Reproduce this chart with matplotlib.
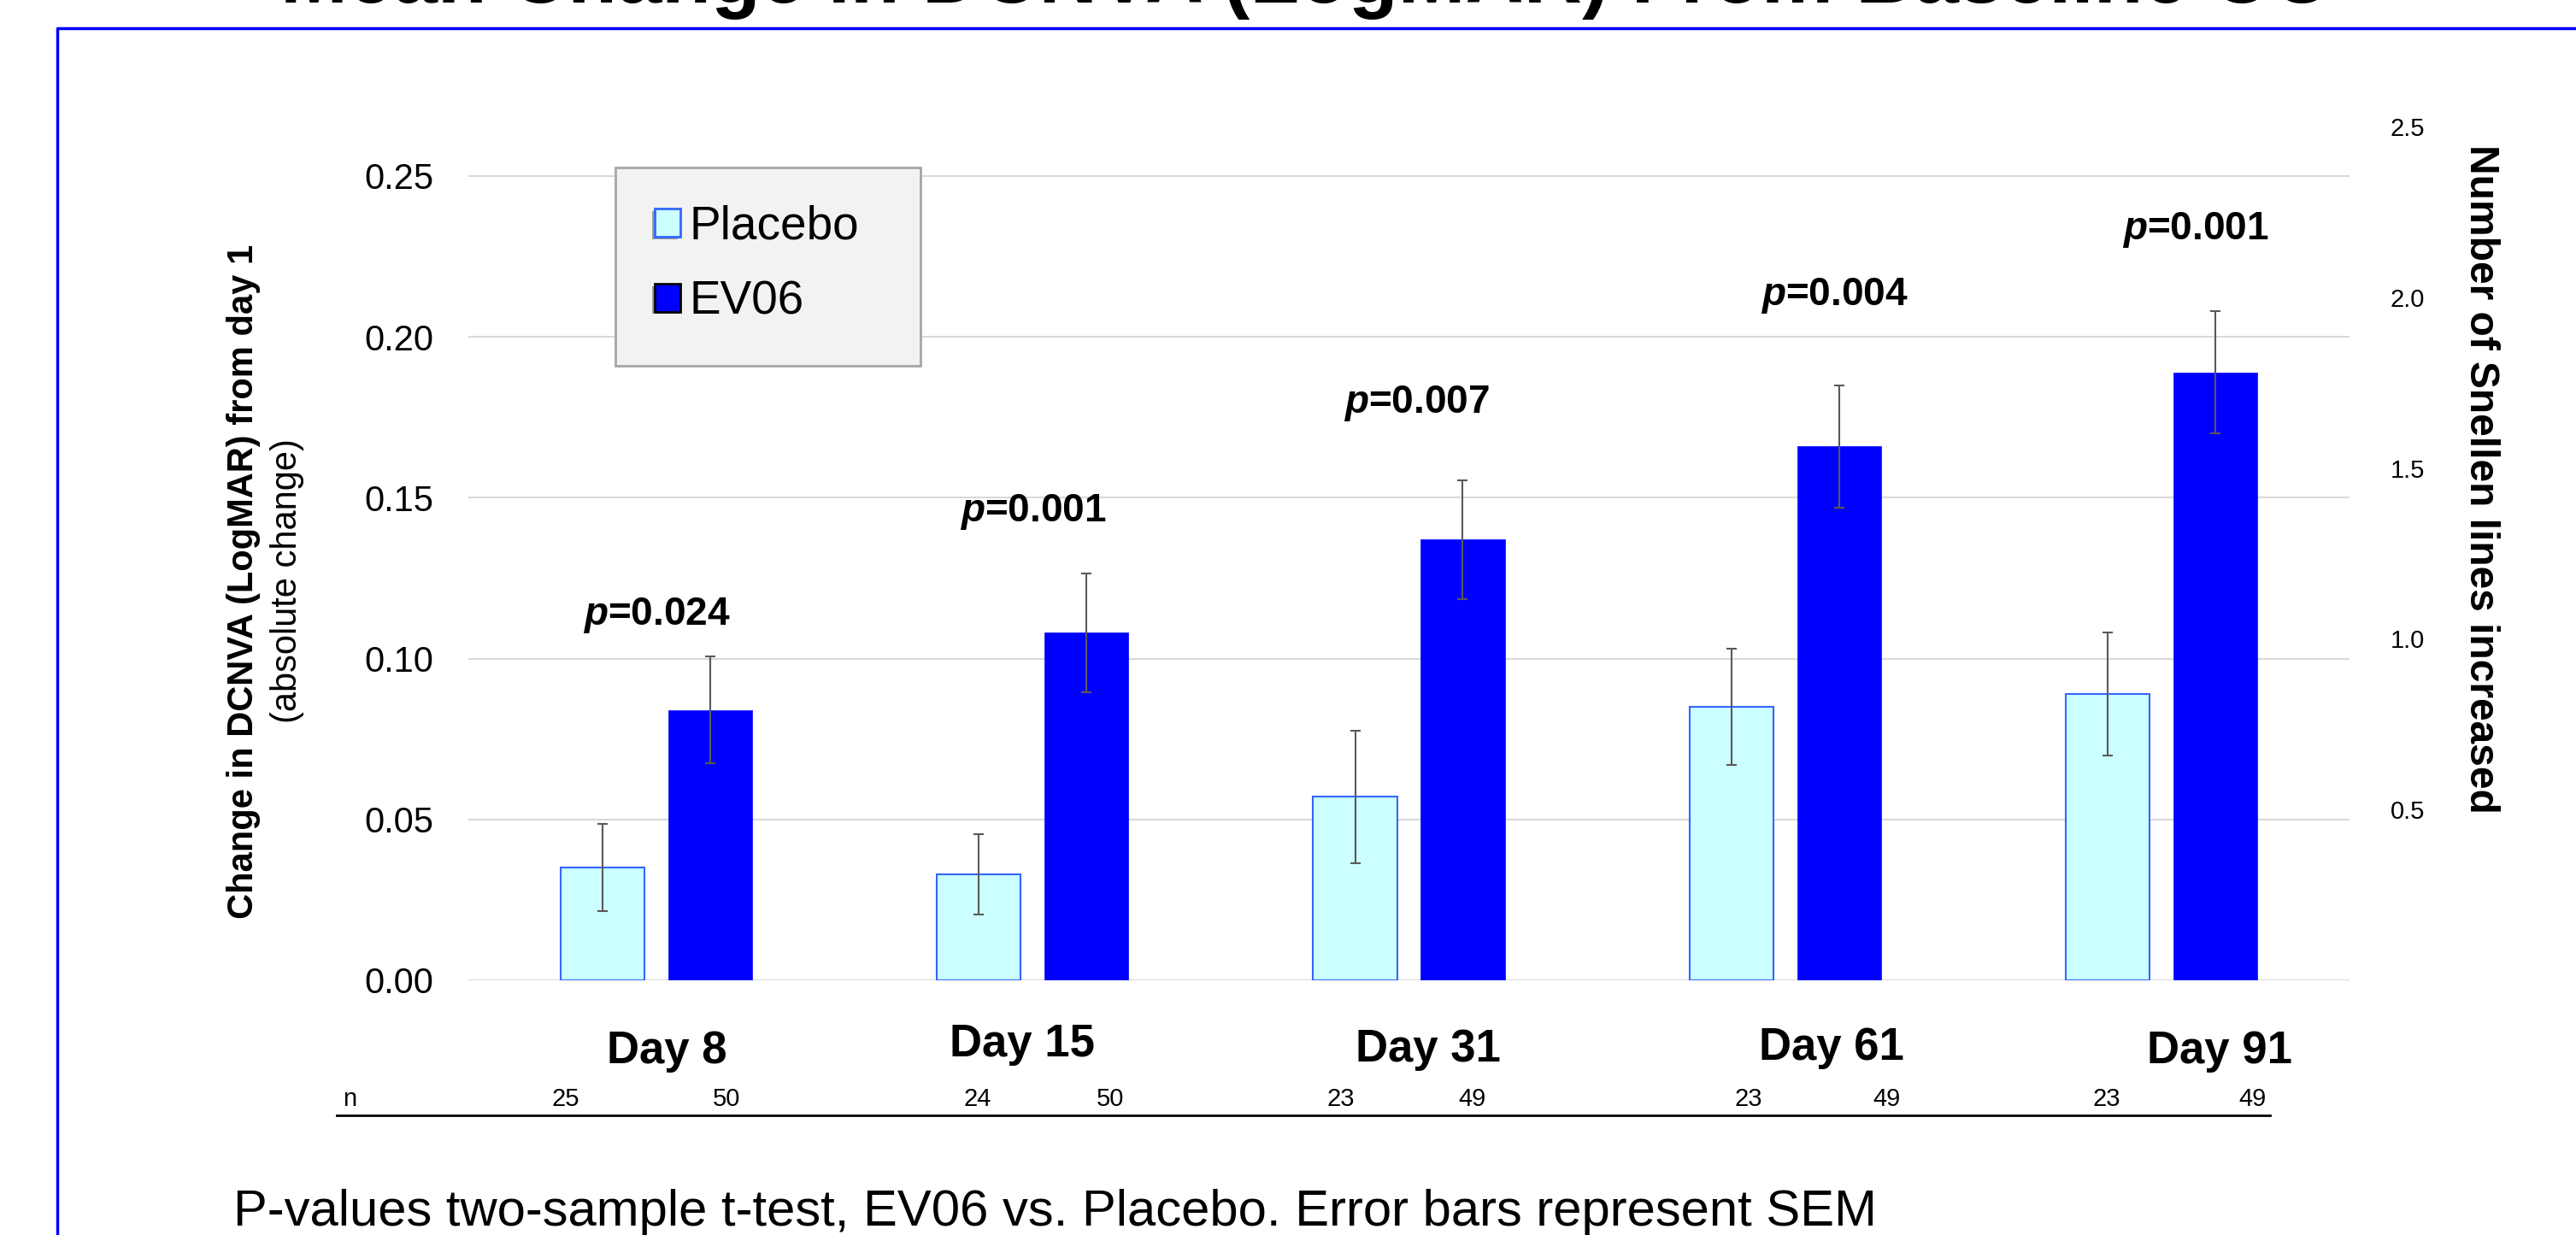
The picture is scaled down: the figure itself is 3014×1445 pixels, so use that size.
import numpy as np
import matplotlib
matplotlib.use("Agg")
import matplotlib.pyplot as plt
import matplotlib.patheffects as pe
from matplotlib.patches import Rectangle, Patch
from matplotlib.lines import Line2D
from matplotlib.transforms import blended_transform_factory

# data
days = ["Day 8", "Day 15", "Day 31", "Day 61", "Day 91"]
placebo_mean = [0.035, 0.033, 0.057, 0.085, 0.089]
placebo_sem = [0.0135, 0.0125, 0.0207, 0.018, 0.019]
ev06_mean = [0.084, 0.108, 0.137, 0.166, 0.189]
ev06_sem = [0.0166, 0.0184, 0.0184, 0.019, 0.019]
p_values = ["0.024", "0.001", "0.007", "0.004", "0.001"]
n_placebo = [25, 24, 23, 23, 23]
n_ev06 = [50, 50, 49, 49, 49]
snellen_ticks = [0.5, 1.0, 1.5, 2.0, 2.5]

# label placement (data x, data y / figure px)
p_label_x = [0.0, 1.0, 2.02, 3.13, 4.09]
p_label_y = [0.1105, 0.1426, 0.1763, 0.2100, 0.2304]
day_label_x = [0.028, 0.972, 2.05, 3.124, 4.155]
day_label_py = [1230, 1222, 1228, 1226, 1230]
n_label_x = [-0.242, 0.186, 0.854, 1.207, 1.819, 2.168, 2.902, 3.269, 3.854, 4.242]

W, H = 3014, 1445
plt.rcParams["font.family"] = ["Liberation Sans", "DejaVu Sans"]
plt.rcParams["mathtext.fontset"] = "custom"
plt.rcParams["mathtext.it"] = "Liberation Sans:italic:bold"


def fx(px):
    return px / W


def fy(py):
    return 1 - py / H


fig = plt.figure(figsize=(W / 100, H / 100), dpi=100)
ax = fig.add_axes([fx(548), fy(1147), fx(2749) - fx(548), fy(148) - fy(1147)])

x = np.arange(len(days))
offset, width = 0.143, 0.223
err_style = dict(ecolor="#595959", elinewidth=1.5, capsize=4.3, capthick=1.5)

ax.bar(x - offset, placebo_mean, width, color="#ccffff", edgecolor="#3366ff",
       linewidth=1.5, yerr=placebo_sem, error_kw=err_style, zorder=2)
ax.bar(x + offset, ev06_mean, width, color="#0000ff", edgecolor="#0000ff",
       linewidth=0.5, yerr=ev06_sem, error_kw=err_style, zorder=2)

ax.set_xlim(-0.5, len(days) - 0.5)
ax.set_ylim(0, 0.25 * (1147 - 148) / (1147 - 206))
ax.set_yticks(np.arange(0, 0.2501, 0.05))
ax.set_yticklabels([f"{v:.2f}" for v in np.arange(0, 0.2501, 0.05)])
ax.set_xticks([])
ax.yaxis.grid(True, color="#d9d9d9", linewidth=1.5)
ax.set_axisbelow(True)
ax.tick_params(axis="y", length=0, pad=29.5, labelsize=30)
for s in ax.spines.values():
    s.set_visible(False)

ax2 = ax.twinx()
ax2.set_ylim(0, 2.5)
ax2.set_yticks(snellen_ticks)
ax2.set_yticklabels([f"{v:.1f}" for v in snellen_ticks])
ax2.tick_params(axis="y", length=0, pad=34.5, labelsize=21)
for s in ax2.spines.values():
    s.set_visible(False)

# p-values above each group
for px_, py_, p in zip(p_label_x, p_label_y, p_values):
    ax.text(px_, py_, r"$p$=" + p, ha="center", va="baseline",
            fontsize=33, fontweight="bold")

# day labels and n row under the axis
trans = blended_transform_factory(ax.transData, fig.transFigure)
for dx, dpy, d in zip(day_label_x, day_label_py, days):
    ax.text(dx, fy(dpy), d, transform=trans, ha="center", va="center",
            fontsize=38, fontweight="bold", clip_on=False)

n_all = [v for pair in zip(n_placebo, n_ev06) for v in pair]
for nx, n in zip(n_label_x, n_all):
    ax.text(nx, fy(1286), str(n), transform=trans, ha="center", va="center",
            fontsize=21, clip_on=False)
fig.text(fx(409), fy(1286), "n", ha="center", va="center", fontsize=21)
fig.add_artist(Line2D([fx(394), fx(2656)], [fy(1305), fy(1305)],
                      color="black", linewidth=2))

# axis titles
fig.text(fx(285), fy(680), "Change in DCNVA (LogMAR) from day 1", rotation=90,
         ha="center", va="center", fontsize=30, fontweight="bold")
fig.text(fx(336), fy(680), "(absolute change)", rotation=90,
         ha="center", va="center", fontsize=30)
fig.text(fx(2902), fy(560), "Number of Snellen lines increased", rotation=270,
         ha="center", va="center", fontsize=34.5, fontweight="bold")

# legend box
fig.add_artist(Rectangle((fx(720), fy(428)), fx(1077) - fx(720), fy(196) - fy(428),
                         transform=fig.transFigure, facecolor="#f2f2f2",
                         edgecolor="#a6a6a6", linewidth=2))
handles = [Patch(facecolor="#ccffff", edgecolor="#3366ff", linewidth=2, label="Placebo"),
           Patch(facecolor="#0000ff", edgecolor="black", linewidth=2, label="EV06")]
leg = fig.legend(handles=handles, loc="upper left", bbox_to_anchor=(fx(766), fy(240)),
                 frameon=False, fontsize=39.5, borderpad=0, borderaxespad=0,
                 handlelength=0.54, handleheight=0.54, handletextpad=0.2,
                 labelspacing=0.65)
for h in leg.legend_handles:
    h.set_path_effects([pe.SimplePatchShadow(offset=(-2, -2), shadow_rgbFace="0.4", alpha=0.6),
                        pe.Normal()])

# title (cut off at the top edge, as in the slide) and slide frame
fig.text(fx(1528), fy(3), "Mean Change in DCNVA (LogMAR) From Baseline OU",
         ha="center", va="baseline", fontsize=68, fontweight="bold")
fig.add_artist(Line2D([fx(67), fx(67), 1.01], [-0.01, fy(33), fy(33)],
                      color="#0000ff", linewidth=2.5))

fig.text(fx(273), fy(1418), "P-values two-sample t-test, EV06 vs. Placebo. Error bars represent SEM",
         ha="left", va="center", fontsize=43)

fig.savefig("out.png", dpi=100)
